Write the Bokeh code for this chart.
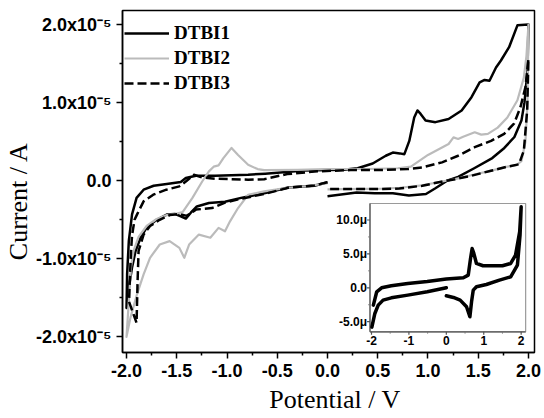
from bokeh.plotting import figure
from bokeh.models import Range1d, FixedTicker, Legend, LegendItem
from bokeh.core.properties import value
from bokeh.embed import file_html
from bokeh.resources import INLINE

# ---------------- data (main plot: potential in V, current in units of 1e-5 A) -------------
# DTBI1 (black solid)
dtbi1_ll_v = [0.0, -0.13, -0.39, -0.63, -0.86, -1.02, -1.18, -1.30, -1.36, -1.41, -1.46, -1.52, -1.60, -1.70, -1.80, -1.86, -1.91, -1.945, -1.98, -2.0]
dtbi1_ll_i = [-0.02, -0.064, -0.086, -0.16, -0.22, -0.27, -0.285, -0.33, -0.41, -0.485, -0.455, -0.425, -0.434, -0.50, -0.60, -0.73, -0.90, -1.11, -1.40, -1.63]
dtbi1_up_v = [-1.994, -1.977, -1.945, -1.90, -1.83, -1.73, -1.60, -1.46, -1.41, -1.31, -1.12, -0.79, -0.62, -0.23, 0.16, 0.30, 0.45, 0.58, 0.65, 0.72, 0.765, 0.814, 0.863, 0.895, 0.927, 0.976, 1.074, 1.205, 1.335, 1.433, 1.514, 1.563, 1.612, 1.677, 1.726, 1.807, 1.89, 2.0]
dtbi1_up_i = [-1.20, -0.77, -0.43, -0.22, -0.115, -0.064, -0.043, -0.017, 0.034, 0.064, 0.064, 0.077, 0.09, 0.13, 0.14, 0.16, 0.22, 0.32, 0.36, 0.35, 0.34, 0.51, 0.81, 0.90, 0.855, 0.77, 0.75, 0.79, 0.90, 1.07, 1.26, 1.29, 1.28, 1.45, 1.54, 1.71, 1.99, 2.0]
dtbi1_lr_v = [1.99, 1.96, 1.93, 1.86, 1.76, 1.64, 1.46, 1.30, 1.19, 1.07, 0.98, 0.81, 0.65, 0.47, 0.29, 0.0]
dtbi1_lr_i = [1.4, 1.0, 0.77, 0.56, 0.42, 0.29, 0.16, 0.05, 0.0, -0.10, -0.17, -0.19, -0.16, -0.16, -0.15, -0.2]

# DTBI2 (grey solid)
dtbi2_ll_v = [0.0, -0.2, -0.4, -0.63, -0.79, -0.89, -0.97, -1.02, -1.084, -1.166, -1.28, -1.377, -1.425, -1.474, -1.571, -1.669, -1.766, -1.83, -1.896, -1.96, -2.0]
dtbi2_ll_i = [-0.03, -0.07, -0.09, -0.136, -0.18, -0.35, -0.52, -0.647, -0.604, -0.73, -0.69, -0.817, -0.987, -0.86, -0.774, -0.817, -0.987, -1.2, -1.455, -1.75, -2.0]
dtbi2_up_v = [-1.975, -1.955, -1.93, -1.88, -1.80, -1.70, -1.60, -1.50, -1.44, -1.344, -1.247, -1.18, -1.133, -1.084, -1.036, -0.955, -0.89, -0.79, -0.695, -0.63, -0.3, 0.0, 0.4, 0.7, 0.83, 1.0, 1.205, 1.254, 1.30, 1.35, 1.465, 1.53, 1.596, 1.694, 1.79, 1.89, 1.954, 1.98, 2.0]
dtbi2_up_i = [-1.5, -1.1, -0.9, -0.72, -0.58, -0.49, -0.44, -0.42, -0.40, -0.22, -0.01, 0.12, 0.18, 0.196, 0.29, 0.42, 0.33, 0.204, 0.149, 0.136, 0.14, 0.15, 0.15, 0.16, 0.18, 0.33, 0.47, 0.555, 0.535, 0.564, 0.62, 0.59, 0.60, 0.68, 0.81, 1.03, 1.32, 1.6, 2.0]
dtbi2_lr_v = [1.99, 1.97, 1.93, 1.88, 1.79, 1.63, 1.43, 1.27, 1.1, 0.94, 0.72, 0.55, 0.0]
dtbi2_lr_i = [1.0, 0.5, 0.25, 0.2, 0.18, 0.13, 0.07, 0.02, -0.02, -0.06, -0.09, -0.1, -0.11]

# DTBI3 (black dashed)
dtbi3_ll_v = [0.0, -0.13, -0.39, -0.63, -0.86, -1.02, -1.15, -1.31, -1.40, -1.474, -1.57, -1.67, -1.766, -1.83, -1.88, -1.89, -1.90]
dtbi3_ll_i = [-0.02, -0.06, -0.09, -0.17, -0.23, -0.28, -0.35, -0.37, -0.45, -0.425, -0.44, -0.50, -0.58, -0.69, -0.9, -1.29, -1.82]
dtbi3_up_v = [-1.975, -1.965, -1.955, -1.945, -1.92, -1.896, -1.83, -1.734, -1.604, -1.474, -1.41, -1.33, -1.25, -1.117, -0.79, -0.63, -0.4, -0.1, 0.23, 0.55, 0.8, 0.944, 1.14, 1.30, 1.465, 1.628, 1.758, 1.856, 1.92, 1.97, 2.0]
dtbi3_up_i = [-1.55, -1.2, -0.9, -0.7, -0.5, -0.434, -0.264, -0.179, -0.115, -0.072, -0.01, 0.077, 0.043, 0.026, 0.013, 0.02, 0.085, 0.12, 0.137, 0.137, 0.15, 0.17, 0.235, 0.32, 0.43, 0.51, 0.60, 0.73, 0.94, 1.20, 1.56]
dtbi3_lr_v = [1.987, 1.954, 1.905, 1.79, 1.628, 1.433, 1.27, 1.107, 0.944, 0.716, 0.553, 0.0]
dtbi3_lr_i = [0.9, 0.385, 0.21, 0.18, 0.128, 0.064, 0.02, -0.02, -0.064, -0.1, -0.107, -0.107]

# Inset (potential in V, current in microA)
inset_ll_v = [0.0, -0.51, -1.03, -1.47, -1.69, -1.82, -1.91, -1.99]
inset_ll_i = [0.0, -0.59, -1.08, -1.48, -1.82, -2.56, -3.79, -5.8]
inset_up_v = [-1.95, -1.86, -1.73, -1.47, -1.03, -0.51, 0.0, 0.455, 0.586, 0.647, 0.69, 0.735, 0.805, 0.98, 1.5, 1.72, 1.85, 1.96, 2.0]
inset_up_i = [-2.56, -0.59, 0.0, 0.3, 0.64, 0.93, 1.28, 1.48, 1.87, 4.33, 5.8, 5.07, 3.59, 3.25, 3.25, 3.59, 4.82, 8.26, 11.95]
inset_lr_v = [1.97, 1.9, 1.72, 1.42, 1.07, 0.805, 0.72, 0.674, 0.63, 0.54, 0.37, 0.19, 0.0]
inset_lr_i = [7.77, 3.34, 1.62, 1.13, 0.49, 0.15, -0.34, -2.07, -4.28, -2.8, -1.82, -1.43, -1.18]

series_names = ["DTBI1", "DTBI2", "DTBI3"]
x_title = "Potential / V"
y_title = "Current / A"

x_ticks = [-2.0, -1.5, -1.0, -0.5, 0.0, 0.5, 1.0, 1.5, 2.0]
x_tick_labels = ["-2.0", "-1.5", "-1.0", "-0.5", "0.0", "0.5", "1.0", "1.5", "2.0"]
x_minor = [-1.75, -1.25, -0.75, -0.25, 0.25, 0.75, 1.25, 1.75]
y_ticks = [-2, -1, 0, 1, 2]
y_tick_labels = ["-2.0x10\u207b\u2075", "-1.0x10\u207b\u2075", "0.0", "1.0x10\u207b\u2075", "2.0x10\u207b\u2075"]
y_minor = [-1.5, -0.5, 0.5, 1.5]

inset_x_ticks = [-2, -1, 0, 1, 2]
inset_x_labels = ["-2", "-1", "0", "1", "2"]
inset_x_minor = [-1.5, -0.5, 0.5, 1.5]
inset_y_ticks = [-5, 0, 5, 10]
inset_y_labels = ["-5.0\u03bc", "0.0", "5.0\u03bc", "10.0\u03bc"]
inset_y_minor = [-2.5, 2.5, 7.5]
inset_xlim = (-2.04, 2.12)
inset_ylim = (-6.49, 12.43)

SANS = "Liberation Sans"
SERIF = "Liberation Serif"
NBSP = "\u00a0"

# ---------------- layout geometry (pixels) ----------------
W, H = 544, 418
BL, BR, BT, BB = 115, 10, 10, 66
FW, FH = W - BL - BR, H - BT - BB          # plot frame size
# inset box inside the frame (pixels from frame left / frame top)
IB_L, IB_R, IB_T, IB_B = 251.7, 410.0, 193.0, 321.3

ppx = (IB_R - IB_L) / (inset_xlim[1] - inset_xlim[0])
ppy = (IB_B - IB_T) / (inset_ylim[1] - inset_ylim[0])
ix0 = inset_xlim[0] - IB_L / ppx
iy0 = inset_ylim[0] - (FH - IB_B) / ppy
inset_xr = Range1d(ix0, ix0 + FW / ppx)
inset_yr = Range1d(iy0, iy0 + FH / ppy)

# ---------------- main figure ----------------
p = figure(width=W, height=H, output_backend="svg", toolbar_location=None,
           x_range=Range1d(-2.04, 2.06), y_range=Range1d(-2.2, 2.18),
           min_border_left=BL, min_border_right=BR, min_border_top=BT, min_border_bottom=BB)
p.extra_x_ranges = {"ix": inset_xr}
p.extra_y_ranges = {"iy": inset_yr}
p.grid.visible = False
p.outline_line_color = "black"
p.outline_line_width = 1.5
p.background_fill_color = "white"
p.border_fill_color = "white"

r1 = p.line(dtbi1_ll_v + dtbi1_up_v + dtbi1_lr_v, dtbi1_ll_i + dtbi1_up_i + dtbi1_lr_i,
            line_color="black", line_width=2.5, line_join="round")
r2 = p.line(dtbi2_ll_v + dtbi2_up_v + dtbi2_lr_v, dtbi2_ll_i + dtbi2_up_i + dtbi2_lr_i,
            line_color="#bbbbbb", line_width=2.2, line_join="round")
r3 = p.line(dtbi3_ll_v + dtbi3_up_v + dtbi3_lr_v, dtbi3_ll_i + dtbi3_up_i + dtbi3_lr_i,
            line_color="black", line_width=2.5, line_dash="9 4")

for ax in (p.xaxis[0], p.yaxis[0]):
    ax.axis_line_width = 1.5
    ax.major_tick_line_width = 1.5
    ax.minor_tick_line_width = 1.5
    ax.major_tick_in = 0
    ax.major_tick_out = 6
    ax.minor_tick_in = 0
    ax.minor_tick_out = 3
    ax.major_label_text_font = SANS
    ax.major_label_text_font_style = "bold"
    ax.major_label_text_font_size = "18px"
    ax.major_label_text_color = "black"
    ax.major_label_standoff = 5
    ax.axis_label_text_font = SERIF
    ax.axis_label_text_font_style = "normal"
    ax.axis_label_text_font_size = "26px"
    ax.axis_label_text_color = "black"

p.xaxis[0].ticker = FixedTicker(ticks=x_ticks, minor_ticks=x_minor)
p.xaxis[0].major_label_overrides = {t: s for t, s in zip(x_ticks, x_tick_labels)}
p.yaxis[0].ticker = FixedTicker(ticks=y_ticks, minor_ticks=y_minor)
p.yaxis[0].major_label_overrides = {t: s for t, s in zip(y_ticks, y_tick_labels)}
# non-breaking spaces nudge the centred titles to where the reference has them
p.xaxis[0].axis_label = NBSP * 2 + x_title
p.xaxis[0].axis_label_standoff = 5
p.yaxis[0].axis_label = y_title + NBSP * 6
p.yaxis[0].axis_label_standoff = 0

legend = Legend(items=[LegendItem(label=series_names[0], renderers=[r1]),
                       LegendItem(label=series_names[1], renderers=[r2]),
                       LegendItem(label=series_names[2], renderers=[r3])],
                location=(2, 258), margin=0, padding=5, spacing=3,
                glyph_width=45, glyph_height=20, label_height=21, label_standoff=5,
                border_line_color=None, background_fill_alpha=0,
                label_text_font=SERIF, label_text_font_style="bold",
                label_text_font_size="19px", label_text_color="black")
p.add_layout(legend)

# ---------------- inset (drawn on its own scale) ----------------
IR = dict(x_range_name="ix", y_range_name="iy")
p.quad(left=[inset_xlim[0]], right=[inset_xlim[1]], bottom=[inset_ylim[0]], top=[inset_ylim[1]],
       fill_color="white", line_color="#9a9a9a", line_width=1.2, **IR)
p.segment(x0=[inset_xlim[0], inset_xlim[0]], y0=[inset_ylim[0], inset_ylim[0]],
          x1=[inset_xlim[0], inset_xlim[1]], y1=[inset_ylim[1], inset_ylim[0]],
          line_color="#555555", line_width=1.2, **IR)
tick_dy = 3.0 / ppy
tick_dx = 3.0 / ppx
p.segment(x0=inset_x_ticks, x1=inset_x_ticks, y0=[inset_ylim[0]] * len(inset_x_ticks),
          y1=[inset_ylim[0] - tick_dy] * len(inset_x_ticks), line_color="#555555", line_width=1.2, **IR)
p.segment(x0=inset_x_minor, x1=inset_x_minor, y0=[inset_ylim[0]] * len(inset_x_minor),
          y1=[inset_ylim[0] - tick_dy * 0.6] * len(inset_x_minor), line_color="#777777", line_width=1.0, **IR)
p.segment(y0=inset_y_ticks, y1=inset_y_ticks, x0=[inset_xlim[0]] * len(inset_y_ticks),
          x1=[inset_xlim[0] - tick_dx] * len(inset_y_ticks), line_color="#555555", line_width=1.2, **IR)
p.segment(y0=inset_y_minor, y1=inset_y_minor, x0=[inset_xlim[0]] * len(inset_y_minor),
          x1=[inset_xlim[0] - tick_dx * 0.6] * len(inset_y_minor), line_color="#777777", line_width=1.0, **IR)
p.text(x=inset_x_ticks, y=[inset_ylim[0]] * len(inset_x_ticks), text=inset_x_labels,
       text_font=value(SANS), text_font_style="bold", text_font_size="12px", text_color="black",
       text_align="center", text_baseline="top", y_offset=4, **IR)
p.text(x=[inset_xlim[0]] * len(inset_y_ticks), y=inset_y_ticks, text=inset_y_labels,
       text_font=value(SANS), text_font_style="bold", text_font_size="12px", text_color="black",
       text_align="right", text_baseline="middle", x_offset=-3, **IR)

p.line(inset_ll_v, inset_ll_i, line_color="black", line_width=3.5, line_join="round", line_cap="round", **IR)
p.line(inset_up_v + inset_lr_v, inset_up_i + inset_lr_i, line_color="black", line_width=3.5,
       line_join="round", line_cap="round", **IR)

with open("out.html", "w") as f:
    f.write(file_html(p, INLINE))
